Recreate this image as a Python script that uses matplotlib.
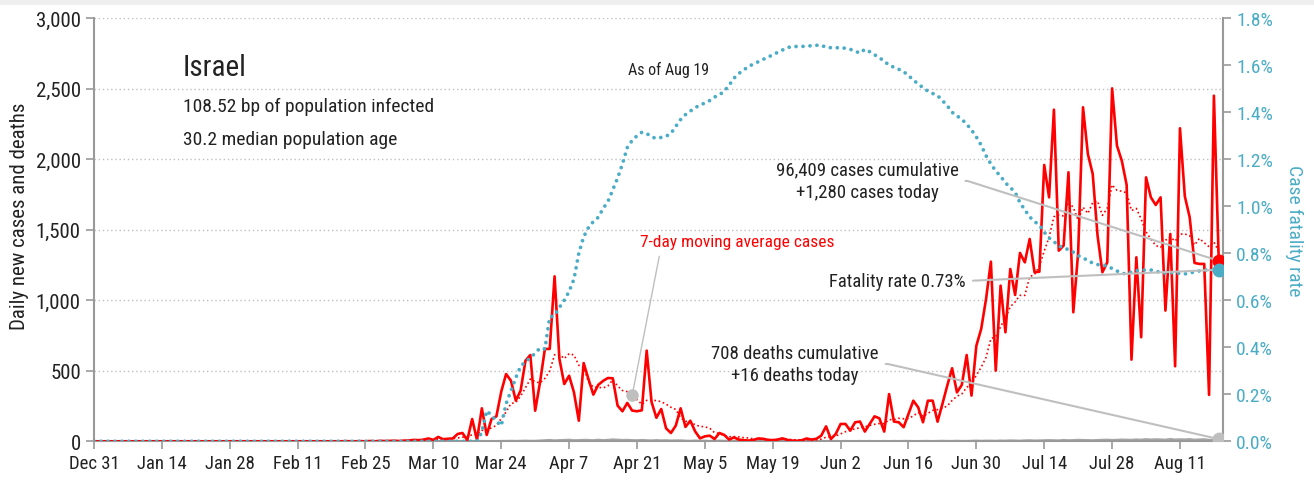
import numpy as np
import pandas as pd
import matplotlib
matplotlib.use('Agg')
import matplotlib.pyplot as plt
import matplotlib.dates as mdates
from matplotlib.patches import Rectangle
from matplotlib.ticker import FuncFormatter

plt.rcParams['font.family'] = ['Roboto Condensed', 'DejaVu Sans']

# daily new cases, one value per day from Dec 31 to Aug 19
cases_jan_feb = [0] * 52 + [1, 0, 0, 1, 0, 2, 0, 3, 2]
cases_mar = [3, 4, 2, 5, 6, 10, 8, 12, 20, 10, 31, 15, 18, 20, 52, 59, 8, 158, 10, 234,
             45, 158, 177, 352, 477, 430, 289, 360, 572, 612, 217]
cases_apr = [418, 655, 655, 1170, 584, 406, 465, 347, 146, 555, 440, 331, 400, 428, 449,
             447, 253, 213, 272, 218, 213, 220, 643, 280, 167, 229, 92, 59, 111, 234]
cases_may = [102, 146, 70, 21, 35, 40, 16, 59, 45, 12, 28, 12, 8, 5, 10, 20, 18, 10, 8, 12,
             21, 10, 5, 3, 8, 20, 12, 18, 40, 106, 16]
cases_jun = [52, 123, 123, 76, 135, 140, 69, 123, 177, 163, 69, 335, 140, 135, 100, 194, 288,
             241, 135, 288, 288, 139, 265, 395, 518, 347, 400, 612, 324, 678]
cases_jul = [797, 1009, 1274, 501, 1104, 773, 1222, 1038, 1336, 1269, 1435, 1199, 1203, 1960,
             1730, 2352, 1352, 1388, 1908, 915, 1340, 2369, 2038, 1896, 1459, 1199, 1269, 2503,
             2097, 1990, 1818]
cases_aug = [579, 1305, 738, 1872, 1730, 1676, 1730, 927, 1470, 532, 2220, 1738, 1589, 1265,
             1258, 1258, 329, 2451, 1280]

# daily deaths (first death Mar 20)
deaths_mar = [1, 0, 0, 0, 1, 1, 2, 1, 2, 3, 2, 2]
deaths_apr = [4, 6, 8, 5, 7, 8, 10, 6, 7, 9, 8, 6, 10, 7, 9, 12, 10, 8, 9, 7, 6, 8, 6, 5, 7,
              5, 6, 4, 5, 5]
deaths_may = [3, 2, 4, 2, 3, 1, 2, 3, 2, 1, 2, 1, 2, 0, 1, 2, 1, 0, 1, 1, 0, 2, 1, 0, 1, 0,
              1, 0, 1, 0, 1]
deaths_jun = [1, 0, 1, 0, 0, 1, 0, 1, 0, 0, 1, 0, 1, 0, 1, 1, 0, 0, 1, 1, 0, 1, 2, 1, 1, 2,
              1, 1, 2, 3]
deaths_jul = [2, 3, 3, 2, 4, 3, 5, 4, 3, 5, 6, 4, 5, 6, 7, 6, 5, 8, 6, 7, 9, 8, 7, 6, 8, 9,
              10, 8, 9, 11, 10]
deaths_aug = [9, 12, 10, 14, 11, 13, 12, 10, 15, 11, 13, 12, 14, 10, 12, 13, 9, 10, 16]

# case fatality rate in percent (cumulative deaths / cumulative cases)
cfr_mar = [0.04, 0.13, 0.11, 0.086, 0.066, 0.16, 0.215, 0.27, 0.32, 0.338, 0.355, 0.375]
cfr_apr = [0.397, 0.393, 0.528, 0.535, 0.57, 0.60, 0.638, 0.69, 0.80, 0.87, 0.91, 0.935,
           0.953, 0.99, 1.02, 1.07, 1.12, 1.18, 1.25, 1.28, 1.30, 1.315, 1.31, 1.295, 1.289,
           1.293, 1.298, 1.31, 1.34, 1.369]
cfr_may = [1.39, 1.405, 1.42, 1.43, 1.44, 1.45, 1.465, 1.474, 1.49, 1.515, 1.545, 1.565,
           1.58, 1.595, 1.605, 1.615, 1.625, 1.635, 1.644, 1.655, 1.665, 1.675, 1.68, 1.68,
           1.68, 1.682, 1.683, 1.685, 1.686, 1.676, 1.675]
cfr_jun = [1.674, 1.676, 1.672, 1.668, 1.66, 1.652, 1.668, 1.658, 1.645, 1.632, 1.618, 1.60,
           1.592, 1.583, 1.573, 1.556, 1.538, 1.52, 1.505, 1.49, 1.48, 1.471, 1.45, 1.428,
           1.40, 1.385, 1.37, 1.35, 1.325, 1.295]
cfr_jul = [1.26, 1.215, 1.18, 1.15, 1.128, 1.10, 1.08, 1.06, 1.015, 0.985, 0.955, 0.935,
           0.92, 0.89, 0.865, 0.85, 0.83, 0.825, 0.815, 0.805, 0.79, 0.78, 0.77, 0.758, 0.752,
           0.749, 0.747, 0.735, 0.725, 0.715, 0.712]
cfr_aug = [0.72, 0.726, 0.728, 0.729, 0.729, 0.724, 0.718, 0.716, 0.717, 0.719, 0.713, 0.712,
           0.716, 0.721, 0.725, 0.728, 0.73, 0.729, 0.73]

cases = np.array(cases_jan_feb + cases_mar + cases_apr + cases_may + cases_jun + cases_jul + cases_aug, dtype=float)
deaths = np.array([0] * 80 + deaths_mar + deaths_apr + deaths_may + deaths_jun + deaths_jul + deaths_aug, dtype=float)
cfr = np.array([0.0] * 80 + cfr_mar + cfr_apr + cfr_may + cfr_jun + cfr_jul + cfr_aug)

dates = pd.date_range('2019-12-31', periods=len(cases), freq='D')
ma7 = pd.Series(cases).rolling(7, min_periods=1).mean().values

RED = '#ff0000'
BLUE = '#4bacc6'
GREY = '#a6a6a6'
LEADER = '#bfbfbf'
AXIS = '#999999'
TEXT = '#222222'

fig = plt.figure(figsize=(13.14, 4.85), dpi=100)
fig.patches.append(Rectangle((0, 1 - 6 / 485), 1, 6 / 485, transform=fig.transFigure,
                             facecolor='#efefef', edgecolor='none', zorder=0))
ax = fig.add_axes([94 / 1314, 42.7 / 485, 1129 / 1314, 423 / 485])
ax2 = ax.twinx()

# left axis: cases and deaths
ax.plot(dates, deaths, color=GREY, lw=1.8, zorder=2)
ax.plot(dates, ma7, color=RED, lw=1.2, ls=(0, (1, 1.6)), zorder=3)
ax.plot(dates, cases, color=RED, lw=1.9, zorder=4)

# right axis: case fatality rate
ax2.plot(dates, cfr, color=BLUE, lw=2.7, ls=(0, (0.01, 1.85)), dash_capstyle='round', zorder=3)

# end-of-series dots
xlast = mdates.date2num(dates[-1])
ax2.plot([xlast], [cases[-1]], 'o', color=RED, ms=9, transform=ax.transData, zorder=6)
ax2.plot([xlast], [deaths[-1]], 'o', color=LEADER, ms=9, transform=ax.transData, zorder=6)
ax2.plot([xlast], [cfr[-1]], 'o', color=BLUE, ms=9, zorder=6)

# annotations
lead = dict(arrowstyle='-', color=LEADER, lw=1.5, shrinkA=3, shrinkB=0)
arm = 'arc,angleA=0,armA=9,angleB=0,armB=0,rad=0'

ax2.annotate('96,409 cases cumulative\n+1,280 cases today', xy=(xlast, cases[-1]),
             xycoords=ax.transData, xytext=(0.6847, 0.6155), textcoords='axes fraction',
             ha='center', va='center', fontsize=13.5, linespacing=1.35, color=TEXT,
             arrowprops=dict(lead, relpos=(1, 0.5), connectionstyle=arm), zorder=5)
ax2.annotate('Fatality rate 0.73%', xy=(xlast, cfr[-1]),
             xytext=(0.7724, 0.379), textcoords='axes fraction',
             ha='right', va='center', fontsize=13.5, color=TEXT,
             arrowprops=dict(lead, relpos=(1, 0.5)), zorder=5)
ax2.annotate('708 deaths cumulative\n+16 deaths today', xy=(xlast, deaths[-1]),
             xycoords=ax.transData, xytext=(0.6209, 0.1828), textcoords='axes fraction',
             ha='center', va='center', fontsize=13.5, linespacing=1.35, color=TEXT,
             arrowprops=dict(lead, relpos=(1, 0.5), connectionstyle=arm), zorder=5)

i_ma = 111
x_ma = mdates.date2num(dates[i_ma])
ax2.plot([x_ma], [ma7[i_ma]], 'o', color=LEADER, ms=8, transform=ax.transData, zorder=6)
ax2.annotate('7-day moving average cases', xy=(x_ma, ma7[i_ma]), xycoords=ax.transData,
             xytext=(0.4836, 0.4712), textcoords='axes fraction', color=RED,
             ha='left', va='center', fontsize=12.5,
             arrowprops=dict(lead, lw=1, relpos=(0.106, 0)), zorder=5)

ax.text(0.0788, 0.866, 'Israel', transform=ax.transAxes, fontsize=21, va='baseline',
        color=TEXT)
ax.text(0.0788, 0.7816, '108.52 bp of population infected', transform=ax.transAxes,
        fontsize=14, va='baseline', color=TEXT)
ax.text(0.0788, 0.703, '30.2 median population age', transform=ax.transAxes,
        fontsize=14, va='baseline', color=TEXT)
ax.text(0.473, 0.868, 'As of Aug 19', transform=ax.transAxes, fontsize=11.5, va='baseline',
        color=TEXT)

# axes limits and ticks
ax.set_xlim(dates[0], dates[-1] + pd.Timedelta(hours=21))
ax.set_ylim(0, 3000)
ax2.set_ylim(0, 1.8)

tick_dates = pd.date_range(dates[0], dates[-1], freq='14D')
ax.set_xticks(tick_dates)
ax.set_xticklabels([f'{d:%b} {d.day}' for d in tick_dates])
ax.set_yticks(np.arange(0, 3001, 500))
ax.yaxis.set_major_formatter(FuncFormatter(lambda v, p: f'{v:,.0f}'))
ax2.set_yticks(np.arange(0, 1.81, 0.2))
ax2.yaxis.set_major_formatter(FuncFormatter(lambda v, p: f'{v:.1f}%'))

ax.yaxis.grid(True, ls=(0, (1, 2)), color=LEADER, lw=1)
ax.set_axisbelow(True)

ax.spines['top'].set_visible(False)
ax.spines['right'].set_visible(False)
for s in ['top', 'left', 'bottom']:
    ax2.spines[s].set_visible(False)
for sp in [ax.spines['left'], ax.spines['bottom'], ax2.spines['right']]:
    sp.set_color(AXIS)
    sp.set_linewidth(1.5)

ax.tick_params(axis='both', length=6, color=AXIS, width=1.2, labelcolor=TEXT)
ax.tick_params(axis='y', labelsize=15)
ax.tick_params(axis='x', labelsize=13.5)
ax2.tick_params(axis='y', length=6, color=AXIS, width=1.2, labelsize=14, labelcolor=BLUE)

ax.set_ylabel('Daily new cases and deaths', fontsize=15, color=TEXT)
ax.yaxis.set_label_coords(-0.058, 0.535)
ax2.set_ylabel('Case fatality rate', fontsize=14, color=BLUE, rotation=270, va='center')
ax2.yaxis.set_label_coords(1.063, 0.5)

fig.savefig('out.png', dpi=100)
